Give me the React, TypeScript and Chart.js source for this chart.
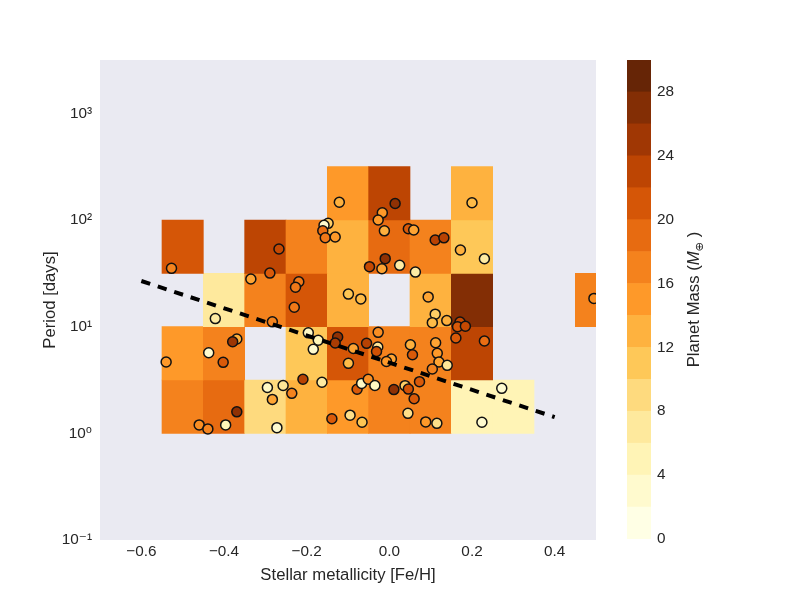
import React, { useEffect, useRef } from "react";
import { Chart, registerables } from "chart.js";

Chart.register(...registerables);

const FONT = "'Liberation Sans', Arial, 'DejaVu Sans', sans-serif";
const TEXT = "#262626";
const PANEL = "#eaeaf2";

// Individual planets: host-star metallicity, orbital period, planet mass
const metallicity = [
  -0.527, -0.267, -0.289, -0.335, -0.219, -0.227, -0.23, -0.421, -0.283, -0.121,
  -0.148, -0.158, -0.161, -0.155, -0.131, 0.014, -0.017, -0.027, -0.012, 0.046,
  0.059, 0.111, 0.132, -0.01, -0.048, -0.018, 0.025, 0.063, -0.099, -0.069,
  0.094, 0.2, 0.172, 0.23, 0.495, -0.369, -0.379, -0.437, -0.402, -0.54,
  -0.295, -0.257, -0.236, -0.283, -0.369, -0.46, -0.439, -0.396, -0.272, -0.196,
  -0.172, -0.184, -0.125, -0.131, -0.087, -0.055, -0.027, -0.028, -0.031, -0.099,
  -0.209, -0.163, -0.078, -0.067, -0.051, -0.035, -0.139, -0.095, -0.066, 0.111,
  0.104, 0.139, 0.051, 0.056, 0.112, 0.116, 0.12, 0.14, 0.104, 0.073,
  0.005, -0.007, 0.011, 0.038, 0.046, 0.06, 0.045, 0.088, 0.115, 0.171,
  0.165, 0.184, 0.161, 0.23, 0.272, 0.224,
];
const periodDays = [
  35.2, 53.5, 31.8, 28.0, 26.4, 23.4, 15.2, 11.9, 11.1, 146.8,
  93.1, 89.1, 79.3, 68.2, 69.2, 142.7, 116.7, 100, 79.1, 82.7,
  80.5, 64.9, 68.0, 43.4, 36.5, 34.9, 37.6, 32.5, 20.2, 18.2,
  19.0, 145, 52.3, 43.3, 18.4, 7.66, 7.22, 5.7, 4.63, 4.66,
  2.69, 2.81, 2.37, 2.08, 1.59, 1.2, 1.1, 1.2, 1.13, 8.75,
  7.45, 6.13, 8.0, 7.03, 6.24, 6.98, 8.85, 6.44, 5.85, 4.53,
  3.21, 3.01, 2.59, 2.94, 3.21, 2.81, 1.37, 1.48, 1.27, 13.1,
  10.9, 11.4, 6.76, 5.46, 7.07, 5.62, 4.66, 4.34, 4.01, 3.05,
  4.97, 4.71, 2.57, 2.8, 2.6, 2.11, 1.54, 1.28, 1.24, 11.06,
  10.0, 10.1, 7.83, 7.34, 2.64, 1.27,
];
const planetMass = [
  17, 23, 21, 14, 18, 18, 18, 6, 17, 13,
  10, 2, 19, 18, 15, 27, 15, 15, 13, 21,
  14, 24, 24, 27, 23, 14, 6, 6, 11, 12,
  14, 12, 13, 6, 16, 13, 26, 2, 21, 15,
  3, 7, 17, 14, 27, 16, 17, 4, 2, 3,
  4, 2, 27, 25, 14, 24, 16, 7, 22, 12,
  24, 6, 21, 3, 16, 3, 21, 8, 11, 10,
  12, 13, 13, 21, 14, 15, 14, 7, 17, 21,
  14, 15, 27, 10, 22, 21, 8, 15, 8, 23,
  21, 23, 21, 19, 2, 2,
];

// Binned mean mass: metallicity bin centres x half-decade period bins
const binCentres = [-0.5, -0.4, -0.3, -0.2, -0.1, 0.0, 0.1, 0.2, 0.3, 0.4, 0.5];
const periodBinEdges = [1, 3.162, 10, 31.62, 100, 316.2];
const binMassRows: (number | null)[][] = [
  [17, 19, 9, 13, 15, 17, 17, 5, 5, null, null],
  [15, 17, null, 11, 21, 17, 17, 23, null, null, null],
  [null, 7, 17, 21, 13, null, 13, 27, null, null, 17],
  [21, null, 23, 17, 13, 19, 17, 11, null, null, null],
  [null, null, null, null, 15, 23, null, 13, null, null, null],
];

// Period-metallicity trend
const trendMetallicity = [-0.6, 0.4];
const trendPeriod = [26.8, 1.42];

// Axes and colour scale
const xTicks = [-0.6, -0.4, -0.2, 0.0, 0.2, 0.4];
const yTicks = [0.1, 1, 10, 100, 1000];
const massMax = 30;
const massStep = 2;
const colorbarTicks = [0, 4, 8, 12, 16, 20, 24, 28];

const ylOrBrStops = [
  "#ffffe5", "#fff7bc", "#fee391", "#fec44f", "#fe9929",
  "#ec7014", "#cc4c02", "#993404", "#662506",
];
const stopRgb = ylOrBrStops.map((h) => [
  parseInt(h.slice(1, 3), 16),
  parseInt(h.slice(3, 5), 16),
  parseInt(h.slice(5, 7), 16),
]);

function ylOrBr(t: number): string {
  const tt = Math.max(0, Math.min(1, t));
  const p = tt * (stopRgb.length - 1);
  const i = Math.min(Math.floor(p), stopRgb.length - 2);
  const f = p - i;
  const a = stopRgb[i];
  const b = stopRgb[i + 1];
  const c = a.map((v, k) => Math.round(v + (b[k] - v) * f));
  return `rgb(${c[0]},${c[1]},${c[2]})`;
}

const nBands = massMax / massStep;
function bandColor(v: number): string {
  const band = Math.min(Math.floor(v / massStep), nBands - 1);
  return ylOrBr(band / (nBands - 1));
}

const SUP: Record<string, string> = { "-": "⁻", "0": "⁰", "1": "¹", "2": "²", "3": "³", "4": "⁴" };
function decadeLabel(v: number): string {
  const e = String(Math.round(Math.log10(v)));
  return "10" + e.split("").map((ch) => SUP[ch]).join("");
}
function fmtX(v: number): string {
  const s = Math.abs(v).toFixed(1);
  return (v < -1e-9 ? "\u2212" : "") + s;
}

const panelBackground = {
  id: "panelBackground",
  beforeDraw(chart: any) {
    const { ctx, chartArea: a } = chart;
    ctx.save();
    ctx.fillStyle = PANEL;
    ctx.fillRect(a.left, a.top, a.right - a.left, a.bottom - a.top);
    ctx.restore();
  },
};

const colorbarTitle = {
  id: "colorbarTitle",
  afterDraw(chart: any) {
    const { ctx, chartArea: a } = chart;
    const size = 16.7;
    const parts = [
      { text: "Planet Mass (", font: `${size}px ${FONT}`, dy: 0 },
      { text: "M", font: `italic ${size}px ${FONT}`, dy: 0 },
      { text: "\u2295", font: `${size * 0.68}px ${FONT}`, dy: size * 0.25 },
      { text: " )", font: `${size}px ${FONT}`, dy: 0 },
    ];
    ctx.save();
    const widths = parts.map((p) => {
      ctx.font = p.font;
      return ctx.measureText(p.text).width;
    });
    const total = widths.reduce((s, w) => s + w, 0);
    ctx.translate(a.right + 47.5, (a.top + a.bottom) / 2);
    ctx.rotate(-Math.PI / 2);
    ctx.fillStyle = TEXT;
    ctx.textBaseline = "alphabetic";
    ctx.textAlign = "left";
    let x = -total / 2;
    parts.forEach((p, i) => {
      ctx.font = p.font;
      ctx.fillText(p.text, x, p.dy);
      x += widths[i];
    });
    ctx.restore();
  },
};

export default function App() {
  const mainRef = useRef<HTMLCanvasElement>(null);
  const barRef = useRef<HTMLCanvasElement>(null);

  useEffect(() => {
    const cells: { x: number; y: [number, number]; m: number }[] = [];
    binMassRows.forEach((row, r) =>
      row.forEach((m, c) => {
        if (m == null) return;
        cells.push({ x: binCentres[c], y: [periodBinEdges[r], periodBinEdges[r + 1]], m });
      })
    );

    const tickFont = { family: FONT, size: 15.3 };
    const titleFont = { family: FONT, size: 16.7 };

    const main = new Chart(mainRef.current!, {
      type: "scatter",
      data: {
        datasets: [
          {
            type: "line",
            data: trendMetallicity.map((x, i) => ({ x, y: trendPeriod[i] })),
            borderColor: "#000",
            borderWidth: 4,
            borderDash: [9.3, 8],
            borderCapStyle: "butt",
            pointRadius: 0,
            fill: false,
            order: 0,
          } as any,
          {
            type: "scatter",
            data: metallicity.map((x, i) => ({ x, y: periodDays[i] })),
            pointBackgroundColor: planetMass.map((m) => ylOrBr(m / massMax)),
            pointBorderColor: "#111",
            pointBorderWidth: 1.5,
            pointRadius: 5,
            clip: 0,
            order: 1,
          } as any,
          {
            type: "bar",
            data: cells.map((c) => ({ x: c.x, y: c.y })),
            backgroundColor: cells.map((c) => bandColor(c.m)),
            borderWidth: 0,
            barPercentage: 1,
            categoryPercentage: 1,
            grouped: false,
            clip: 0,
            order: 2,
          } as any,
        ],
      },
      options: {
        responsive: false,
        animation: false,
        layout: { padding: { left: 0, top: 60, right: 204, bottom: 0 } },
        plugins: { legend: { display: false }, tooltip: { enabled: false } },
        scales: {
          x: {
            type: "linear",
            min: -0.7,
            max: 0.5,
            offset: false,
            grid: { display: false, drawTicks: false },
            border: { display: false },
            afterBuildTicks: (s: any) => {
              s.ticks = xTicks.map((v) => ({ value: v }));
            },
            afterFit: (s: any) => {
              s.height = 60;
            },
            ticks: {
              padding: 3,
              color: TEXT,
              font: tickFont,
              autoSkip: false,
              maxRotation: 0,
              callback: (v: any) => fmtX(Number(v)),
            },
            title: {
              display: true,
              text: "Stellar metallicity [Fe/H]",
              color: TEXT,
              font: titleFont,
              padding: { top: 0, bottom: 15 },
            },
          },
          y: {
            type: "logarithmic",
            min: yTicks[0],
            max: Math.pow(10, 3.5),
            grid: { display: false, drawTicks: false },
            border: { display: false },
            afterBuildTicks: (s: any) => {
              s.ticks = yTicks.map((v) => ({ value: v }));
            },
            afterFit: (s: any) => {
              s.width = 100;
            },
            ticks: {
              padding: 8,
              color: TEXT,
              font: tickFont,
              autoSkip: false,
              callback: (v: any) => decadeLabel(Number(v)),
            },
            title: {
              display: true,
              text: "Period [days]",
              color: TEXT,
              font: titleFont,
              padding: { top: 40, bottom: 0 },
            },
          },
        },
      } as any,
      plugins: [panelBackground],
    });

    const bandLows = Array.from({ length: nBands }, (_, i) => i * massStep);
    const cbar = new Chart(barRef.current!, {
      type: "bar",
      data: {
        labels: [""],
        datasets: bandLows.map((lo) => ({
          data: [massStep],
          backgroundColor: bandColor(lo),
          borderWidth: 0,
          barPercentage: 1,
          categoryPercentage: 1,
        })),
      },
      options: {
        responsive: false,
        animation: false,
        layout: { padding: { left: 27, top: 60, right: 0, bottom: 61 } },
        plugins: { legend: { display: false }, tooltip: { enabled: false } },
        scales: {
          x: { display: false, stacked: true },
          y: {
            stacked: true,
            position: "right",
            min: 0,
            max: massMax,
            grid: { display: false, drawTicks: false },
            border: { display: false },
            afterBuildTicks: (s: any) => {
              s.ticks = colorbarTicks.map((v) => ({ value: v }));
            },
            afterFit: (s: any) => {
              s.width = 149;
            },
            ticks: { padding: 6, color: TEXT, font: tickFont, autoSkip: false },
          },
        },
      } as any,
      plugins: [colorbarTitle],
    });

    return () => {
      main.destroy();
      cbar.destroy();
    };
  }, []);

  return (
    <div style={{ position: "fixed", left: 0, top: 0, width: 800, height: 600, background: "#fff" }}>
      <canvas ref={mainRef} width={800} height={600} style={{ position: "absolute", left: 0, top: 0 }} />
      <canvas ref={barRef} width={200} height={600} style={{ position: "absolute", left: 600, top: 0 }} />
    </div>
  );
}
